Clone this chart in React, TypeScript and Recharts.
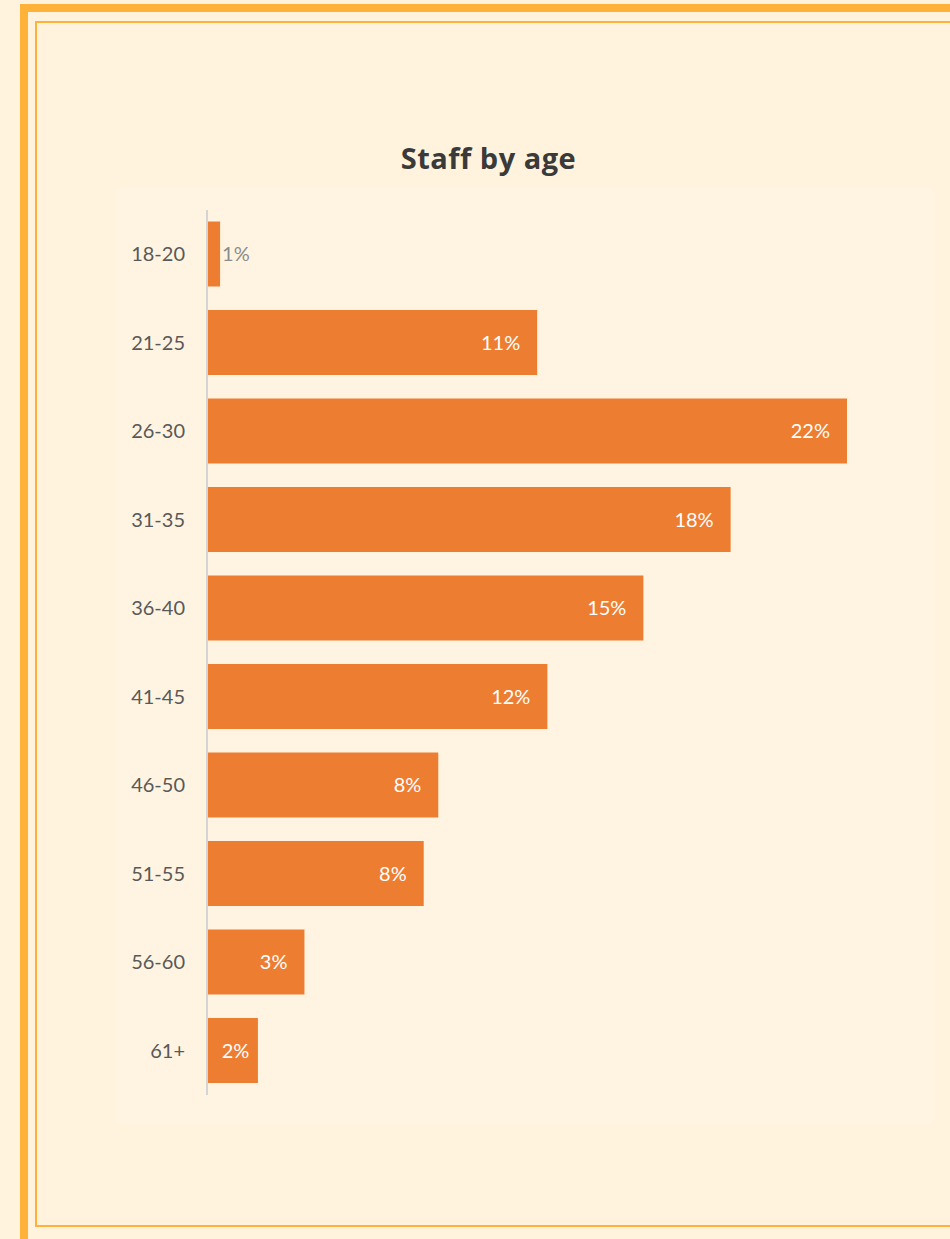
import React from "react";
import { BarChart, Bar, XAxis, YAxis, LabelList } from "recharts";

// age groups, top to bottom
const ageGroups = ["18-20", "21-25", "26-30", "31-35", "36-40", "41-45", "46-50", "51-55", "56-60", "61+"];
// share of staff (%)
const shares = [0.45, 11.35, 22, 18, 15, 11.7, 7.95, 7.45, 3.35, 1.75];
// labels shown on the bars
const shareLabels = ["1%", "11%", "22%", "18%", "15%", "12%", "8%", "8%", "3%", "2%"];

const data = ageGroups.map((age, i) => ({ age, share: shares[i], label: shareLabels[i] }));

const FONT = "Lato, 'Open Sans', sans-serif";

const BarLabel = (props: any) => {
  const { x, y, width, height, index } = props;
  const text = shareLabels[index];
  const cy = y + height / 2;
  if (width < 30) {
    return (
      <text x={x + width + 2} y={cy} dy="0.35em" textAnchor="start" fill="#8c8c8c" fontSize={20} fontFamily={FONT}>
        {text}
      </text>
    );
  }
  if (width < 70) {
    return (
      <text x={x + width / 2 + 3} y={cy} dy="0.35em" textAnchor="middle" fill="#ffffff" fontSize={20} fontFamily={FONT}>
        {text}
      </text>
    );
  }
  return (
    <text x={x + width - 17} y={cy} dy="0.35em" textAnchor="end" fill="#ffffff" fontSize={20} fontFamily={FONT}>
      {text}
    </text>
  );
};

export default function App() {
  return (
    <div style={{ position: "absolute", left: 0, top: 0, width: 950, height: 1239, background: "#FFF3DD", overflow: "hidden" }}>
      {/* outer frame */}
      <div style={{ position: "absolute", left: 20, top: 4, width: 1000, height: 1300, border: "8px solid #FFB23A", boxSizing: "border-box" }} />
      {/* inner frame */}
      <div style={{ position: "absolute", left: 35, top: 21, width: 980, height: 1206, border: "2px solid #FFB23A", boxSizing: "border-box" }} />
      {/* chart panel */}
      <div style={{ position: "absolute", left: 115, top: 188, width: 820, height: 936, background: "#FFF4E1" }} />
      <div
        style={{
          position: "absolute",
          left: 0,
          top: 140,
          width: 977,
          textAlign: "center",
          fontFamily: "'Open Sans', 'Noto Sans', sans-serif",
          fontWeight: 700,
          fontSize: 29,
          letterSpacing: 0.5,
          lineHeight: "36px",
          color: "#3a3a3a",
        }}
      >
        Staff by age
      </div>
      <div style={{ position: "absolute", left: 0, top: 0 }}>
        <BarChart
          width={950}
          height={1239}
          data={data}
          layout="vertical"
          margin={{ top: 210, right: 103, bottom: 144, left: 0 }}
          barCategoryGap="13%"
        >
          <XAxis type="number" domain={[0, 22]} hide />
          <YAxis
            type="category"
            dataKey="age"
            width={207}
            axisLine={{ stroke: "#d4d4d4", strokeWidth: 2 }}
            tickLine={false}
            tickSize={0}
            tickMargin={22}
            tick={{ fill: "#595959", fontSize: 20, fontFamily: FONT }}
          />
          <Bar dataKey="share" fill="#ED7D31" isAnimationActive={false}>
            <LabelList dataKey="share" content={<BarLabel />} />
          </Bar>
        </BarChart>
      </div>
    </div>
  );
}
